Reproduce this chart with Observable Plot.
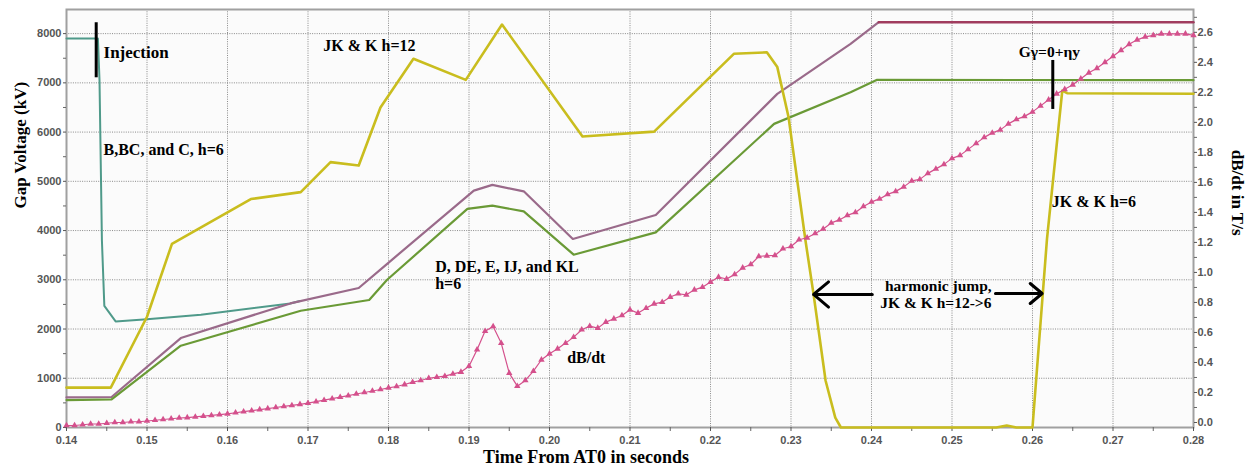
<!DOCTYPE html>
<html><head><meta charset="utf-8">
<script src="https://cdn.jsdelivr.net/npm/d3@7"></script>
<script src="https://cdn.jsdelivr.net/npm/@observablehq/plot@0.6"></script>
<style>html,body{margin:0;padding:0;background:#fff}svg{display:block}</style>
</head><body><div id="chart"></div>
<script>
// ---- Data (time in s, voltage in kV, dB/dt in T/s) ----
const bcTime = [0.140, 0.1439, 0.1441, 0.1444, 0.1447, 0.1461, 0.150, 0.1567, 0.1678, 0.169];
const bcKV   = [7900, 7900, 7050, 3800, 2470, 2155, 2200, 2290, 2520, 2570];

const jkTime = [0.140, 0.1455, 0.150, 0.1531, 0.1629, 0.1691, 0.1728, 0.1763, 0.1790, 0.1831, 0.1896, 0.1941, 0.2041, 0.2130, 0.2229, 0.2270, 0.2283, 0.2297, 0.2318, 0.2328, 0.2343, 0.2355, 0.2362, 0.2555, 0.2568, 0.2580, 0.2600, 0.2614, 0.2618, 0.2637, 0.2643, 0.2800];
const jkKV   = [810, 810, 2250, 3730, 4640, 4780, 5390, 5320, 6500, 7490, 7060, 8185, 5910, 6010, 7590, 7620, 7320, 6300, 3795, 2710, 950, 200, 0, 0, 40, 0, 0, 2980, 3830, 6843, 6790, 6780];

const deUpTime = [0.140, 0.1456, 0.1542, 0.1678, 0.1763, 0.1798, 0.1906, 0.1929, 0.1968, 0.2029, 0.2132, 0.2283, 0.2374, 0.2409];
const deUpKV   = [610, 620, 1817, 2520, 2833, 3320, 4811, 4927, 4797, 3829, 4317, 6776, 7793, 8232];
const flatTopTime = [0.2409, 0.280];
const flatTopKV   = [8232, 8232];

const deLoTime = [0.140, 0.1456, 0.1542, 0.1691, 0.1776, 0.1798, 0.1898, 0.1929, 0.1968, 0.2030, 0.2132, 0.2279, 0.2374, 0.2407, 0.280];
const deLoKV   = [557, 570, 1661, 2372, 2589, 2996, 4439, 4506, 4390, 3510, 3964, 6167, 6809, 7061, 7055];

// dB/dt sampled every 1 ms from 0.140 s to 0.280 s
const dbdtValues = [
 -0.02,-0.02,-0.015,-0.01,-0.01,-0.005,0.0,0.0,0.005,0.005,
 0.01,0.015,0.02,0.025,0.03,0.033,0.037,0.042,0.047,0.052,
 0.058,0.065,0.072,0.079,0.086,0.093,0.10,0.107,0.114,0.121,
 0.129,0.139,0.149,0.159,0.169,0.179,0.19,0.20,0.21,0.22,
 0.231,0.24,0.253,0.269,0.28,0.295,0.302,0.309,0.324,0.336,
 0.375,0.485,0.609,0.64,0.529,0.329,0.242,0.28,0.342,0.418,
 0.458,0.491,0.529,0.569,0.618,0.642,0.629,0.669,0.691,0.713,
 0.751,0.729,0.762,0.791,0.802,0.836,0.858,0.851,0.884,0.902,
 0.936,0.969,0.956,0.987,1.031,1.053,1.107,1.111,1.113,1.158,
 1.173,1.218,1.231,1.26,1.29,1.33,1.35,1.38,1.40,1.44,
 1.47,1.49,1.52,1.54,1.57,1.61,1.62,1.66,1.69,1.72,
 1.76,1.78,1.82,1.86,1.90,1.93,1.95,1.99,2.02,2.04,
 2.07,2.11,2.15,2.19,2.22,2.25,2.29,2.33,2.36,2.40,
 2.44,2.48,2.52,2.55,2.57,2.58,2.59,2.59,2.59,2.59,
 2.58];
const dbdtStart = 0.140, dbdtStep = 0.001;

// Tick values
const xMajor = d3.range(14, 29).map(i => i / 100);
const xMinor = d3.range(14, 28).map(i => i / 100 + 0.005);
const kvMajor = d3.range(0, 8001, 1000);
const kvMinor = d3.range(500, 8001, 1000);
const dbdtMajor = d3.range(0, 14).map(i => +(i * 0.2).toFixed(1));
const dbdtMinor = d3.range(0, 14).map(i => +(i * 0.2 + 0.1).toFixed(1));

// Annotations (data coordinates)
const notesLeft = [
  {t: 0.1446, v: 7617, text: "Injection", size: 17},
  {t: 0.1446, v: 5647, text: "B,BC, and C, h=6", size: 16},
  {t: 0.1719, v: 7760, text: "JK & K h=12", size: 16},
  {t: 0.1858, v: 3270, text: "D, DE, E, IJ, and KL", size: 16},
  {t: 0.1858, v: 2925, text: "h=6", size: 16},
  {t: 0.2022, v: 1422, text: "dB/dt", size: 16},
  {t: 0.2624, v: 4577, text: "JK & K h=6", size: 16}
];
const notesCenter = [
  {t: 0.2483, v: 2864, text: "harmonic jump,", size: 15.5},
  {t: 0.2480, v: 2525, text: "JK & K h=12->6", size: 15.5},
  {t: 0.2621, v: 7617, text: "Gγ=0+ηy", size: 15.5}
];
const arrows = [
  {t1: 0.2401, t2: 0.2328, v: 2702},
  {t1: 0.2554, t2: 0.2612, v: 2722}
];
const bars = [
  {t: 0.14369, v1: 7103, v2: 8221},
  {t: 0.26252, v1: 6460, v2: 7455}
];

// ---- Build tables ----
const zipTV = (ts, vs) => ts.map((t, i) => ({t, v: vs[i]}));
const teal = zipTV(bcTime, bcKV);
const yellow = zipTV(jkTime, jkKV);
const purple = zipTV(deUpTime, deUpKV);
const maroon = zipTV(flatTopTime, flatTopKV);
const green = zipTV(deLoTime, deLoKV);

// right axis (T/s) shares the kV scale: linear mapping
const yMax = 8490;
const kvPerT = 3048, kvAtZeroT = 101.6;
const toKV = T => kvAtZeroT + kvPerT * T;
const dbdt = dbdtValues.map((d, i) => ({t: dbdtStart + i * dbdtStep, v: toKV(d)}));

const serif = "'Liberation Serif', 'Times New Roman', serif";
const sans = "'Liberation Sans', Arial, sans-serif";
const blank = () => "";

const chart = Plot.plot({
  width: 1247, height: 473,
  marginLeft: 66, marginRight: 54, marginTop: 9, marginBottom: 46,
  style: {fontFamily: sans, background: "#fff"},
  x: {domain: [0.14, 0.28]},
  y: {domain: [0, yMax]},
  marks: [
    Plot.frame({fill: "#fbfbfb", stroke: "none"}),
    Plot.gridX(xMajor.slice(1, -1), {stroke: "#777", strokeOpacity: 0.85, strokeDasharray: "1,1.3"}),
    Plot.gridY(kvMajor.slice(1), {stroke: "#777", strokeOpacity: 0.85, strokeDasharray: "1,1.3"}),
    Plot.frame({stroke: "#a0a0a0", strokeWidth: 2}),
    // axes
    Plot.axisX(xMajor, {tickSize: 4, tickPadding: 5, tickFormat: d => d.toFixed(2), label: null, fontSize: 11, fontWeight: "bold", color: "#555"}),
    Plot.axisX(xMinor, {tickSize: 4, tickFormat: blank, label: null, color: "#666"}),
    Plot.axisY(kvMajor, {anchor: "left", tickSize: 3, tickPadding: 2, tickFormat: d => String(d), label: null, fontSize: 11, fontWeight: "bold", color: "#555"}),
    Plot.axisY(kvMinor, {anchor: "left", tickSize: 3, tickFormat: blank, label: null, color: "#666"}),
    Plot.axisY(dbdtMajor.map(toKV), {anchor: "right", tickSize: 3, tickPadding: 1, tickFormat: d => ((d - kvAtZeroT) / kvPerT).toFixed(1), label: null, fontSize: 11, fontWeight: "bold", color: "#555"}),
    Plot.axisY(dbdtMinor.map(toKV), {anchor: "right", tickSize: 3, tickFormat: blank, label: null, color: "#666"}),
    // series
    Plot.line(teal, {x: "t", y: "v", stroke: "#4f9a8a", strokeWidth: 2}),
    Plot.line(purple, {x: "t", y: "v", stroke: "#9a6a8a", strokeWidth: 2.2}),
    Plot.line(maroon, {x: "t", y: "v", stroke: "#a03c5e", strokeWidth: 2.4}),
    Plot.line(green, {x: "t", y: "v", stroke: "#6a9a36", strokeWidth: 2.2}),
    Plot.line(yellow, {x: "t", y: "v", stroke: "#c9bd1e", strokeWidth: 2.6}),
    Plot.line(dbdt, {x: "t", y: "v", stroke: "#d4508c", strokeWidth: 1.2}),
    Plot.dot(dbdt, {x: "t", y: "v", symbol: "triangle", r: 2.4, fill: "#d4508c", stroke: "none"}),
    // annotations
    Plot.ruleX(bars, {x: "t", y1: "v1", y2: "v2", stroke: "#000", strokeWidth: 3}),
    Plot.arrow(arrows, {x1: "t1", x2: "t2", y1: "v", y2: "v", stroke: "#000", strokeWidth: 3, headAngle: 80, headLength: 16}),
    Plot.text(notesLeft, {x: "t", y: "v", text: "text", fontSize: "size", textAnchor: "start", fontFamily: serif, fontWeight: "bold", fill: "#000"}),
    Plot.text(notesCenter, {x: "t", y: "v", text: "text", fontSize: "size", textAnchor: "middle", fontFamily: serif, fontWeight: "bold", fill: "#000"}),
    // axis titles
    Plot.text(["Time From AT0 in seconds"], {frameAnchor: "bottom", dx: -44, dy: 35, fontSize: 18, fontFamily: serif, fontWeight: "bold", fill: "#000"}),
    Plot.text(["Gap Voltage (kV)"], {frameAnchor: "left", dx: -46, dy: -10, rotate: -90, fontSize: 17, fontFamily: serif, fontWeight: "bold", fill: "#000"}),
    Plot.text(["dB/dt in T/s"], {frameAnchor: "right", dx: 44, dy: 17, rotate: 90, fontSize: 17, fontFamily: serif, fontWeight: "bold", fill: "#000"})
  ]
});
document.getElementById("chart").appendChild(chart);
</script>
</body></html>
